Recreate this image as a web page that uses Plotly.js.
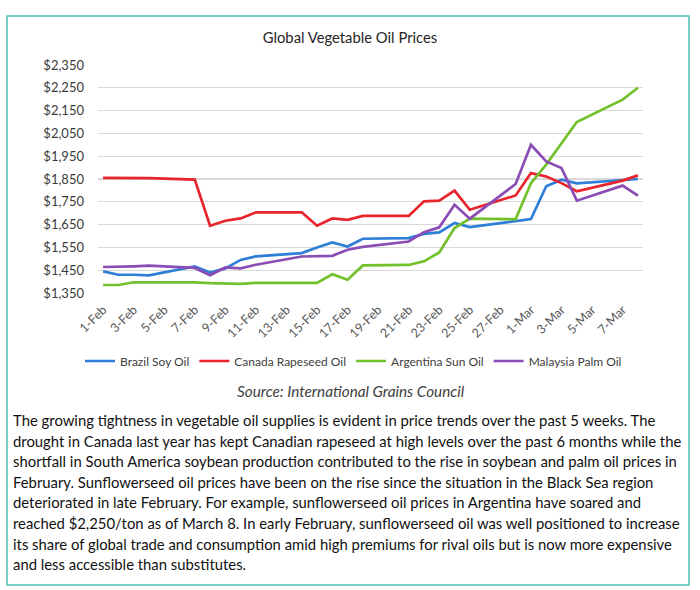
<!DOCTYPE html>
<html>
<head>
<meta charset="utf-8">
<script src="https://cdn.plot.ly/plotly-3.0.1.min.js"></script>
<style>
  html, body { margin: 0; padding: 0; background: #ffffff; }
  #chart { width: 700px; height: 590px; }
</style>
</head>
<body>
<div id="chart"></div>
<script>
// ---- Data ----
const dates = [
  '2022-02-01','2022-02-02','2022-02-03','2022-02-04','2022-02-07','2022-02-08','2022-02-09',
  '2022-02-10','2022-02-11','2022-02-14','2022-02-15','2022-02-16','2022-02-17','2022-02-18',
  '2022-02-21','2022-02-22','2022-02-23','2022-02-24','2022-02-25','2022-02-28','2022-03-01',
  '2022-03-02','2022-03-03','2022-03-04','2022-03-07','2022-03-08'
];
const brazilSoy = [1445,1430,1430,1427,1467,1440,1458,1495,1511,1525,1550,1572,1554,1588,
                   1591,1609,1616,1657,1639,1664,1674,1818,1847,1831,1843,1850];
const canadaRapeseed = [1855,1855,1855,1854,1847,1645,1667,1677,1704,1704,1645,1677,1671,1688,
                        1688,1752,1755,1799,1715,1778,1876,1861,1832,1796,1843,1866];
const argentinaSun = [1385,1385,1397,1397,1397,1393,1390,1390,1394,1394,1394,1432,1408,1471,
                      1473,1489,1528,1635,1676,1674,1832,1913,2005,2100,2198,2250];
const malaysiaPalm = [1464,1464,1467,1470,1460,1428,1462,1458,1474,1510,1513,1513,1540,1552,
                      1576,1617,1638,1737,1676,1828,2000,1927,1898,1755,1821,1777];

const seriesNames = ['Brazil Soy Oil','Canada Rapeseed Oil','Argentina Sun Oil','Malaysia Palm Oil'];
const seriesColors = ['#2f7ed8','#e8242c','#72c02c','#8b4db5'];

const tickDates = ['2022-02-01','2022-02-03','2022-02-05','2022-02-07','2022-02-09','2022-02-11',
  '2022-02-13','2022-02-15','2022-02-17','2022-02-19','2022-02-21','2022-02-23','2022-02-25',
  '2022-02-27','2022-03-01','2022-03-03','2022-03-05','2022-03-07'];
const tickLabels = ['1-Feb','3-Feb','5-Feb','7-Feb','9-Feb','11-Feb','13-Feb','15-Feb','17-Feb',
  '19-Feb','21-Feb','23-Feb','25-Feb','27-Feb','1-Mar','3-Mar','5-Mar','7-Mar'];

const chartTitle = 'Global Vegetable Oil Prices';
const sourceText = 'Source: International Grains Council';
const paragraphLines = [
  'The growing tightness in vegetable oil supplies is evident in price trends over the past 5 weeks. The',
  'drought in Canada last year has kept Canadian rapeseed at high levels over the past 6 months while the',
  'shortfall in South America soybean production contributed to the rise in soybean and palm oil prices in',
  'February. Sunflowerseed oil prices have been on the rise since the situation in the Black Sea region',
  'deteriorated in late February. For example, sunflowerseed oil prices in Argentina have soared and',
  'reached $2,250/ton as of March 8. In early February, sunflowerseed oil was well positioned to increase',
  'its share of global trade and consumption amid high premiums for rival oils but is now more expensive',
  'and less accessible than substitutes.'
];

// ---- Layout geometry (pixels) ----
const W = 700, H = 590;
const plotL = 98, plotR = 643, plotT = 65, plotB = 293;
const pw = plotR - plotL, ph = plotB - plotT;
const px = x => (x - plotL) / pw;       // pixel x -> paper x
const py = y => (plotB - y) / ph;       // pixel y -> paper y

const FONT = 'Lato, "Open Sans", sans-serif';

const allSeries = [brazilSoy, canadaRapeseed, argentinaSun, malaysiaPalm];
const traces = allSeries.map((vals, i) => ({
  type: 'scatter',
  mode: 'lines',
  x: dates,
  y: vals,
  name: seriesNames[i],
  line: { color: seriesColors[i], width: 2.7 },
  hoverinfo: 'x+y+name'
}));

const annotations = [
  {
    text: sourceText, xref: 'paper', yref: 'paper',
    x: px(351), y: py(391), xanchor: 'center', yanchor: 'middle',
    showarrow: false, font: { family: FONT, size: 15.3, color: '#404040', style: 'italic' }
  }
];
paragraphLines.forEach((t, i) => {
  annotations.push({
    text: t, xref: 'paper', yref: 'paper',
    x: px(11), y: py(420 + i * 20.6), xanchor: 'left', yanchor: 'middle',
    showarrow: false, font: { family: FONT, size: 14.85, color: '#111111' }
  });
});

const layout = {
  width: W, height: H,
  margin: { l: plotL, r: W - plotR, t: plotT, b: H - plotB, pad: 0 },
  paper_bgcolor: '#ffffff',
  plot_bgcolor: '#ffffff',
  font: { family: FONT, color: '#404040' },
  title: {
    text: chartTitle,
    font: { family: FONT, size: 14.8, color: '#262626' },
    x: 0.5, xanchor: 'center', xref: 'container',
    y: 1 - 38 / H, yanchor: 'middle', yref: 'container'
  },
  xaxis: {
    type: 'date',
    range: ['2022-01-31 16:00', '2022-03-08 08:00'],
    tickmode: 'array',
    tickvals: tickDates,
    ticktext: tickLabels,
    tickangle: -45,
    tickfont: { family: FONT, size: 12.5, color: '#595959' },
    ticklabelstandoff: 6,
    showgrid: false,
    zeroline: false,
    showline: false,
    ticks: '',
    fixedrange: true
  },
  yaxis: {
    range: [1350, 2350],
    tick0: 1350,
    dtick: 100,
    tickformat: '$,.0f',
    tickfont: { family: FONT, size: 13, color: '#3a3a3a' },
    ticklabelstandoff: 13,
    showgrid: true,
    gridcolor: '#d9d9d9',
    gridwidth: 1.3,
    zeroline: false,
    showline: false,
    ticks: '',
    ticklen: 0,
    fixedrange: true
  },
  showlegend: true,
  legend: {
    orientation: 'h',
    xref: 'container', yref: 'container',
    x: 0.505, xanchor: 'center',
    y: 1 - 361 / H, yanchor: 'middle',
    font: { family: FONT, size: 12, color: '#404040' },
    itemwidth: 30,
    tracegroupgap: 0
  },
  shapes: [
    {
      type: 'rect', xref: 'paper', yref: 'paper',
      x0: px(7), x1: px(689), y0: py(585), y1: py(16),
      line: { color: '#4fc1b4', width: 1.5 },
      fillcolor: 'rgba(0,0,0,0)',
      layer: 'below'
    }
  ],
  annotations: annotations
};

Plotly.newPlot('chart', traces, layout, { displayModeBar: false, staticPlot: true });
</script>
</body>
</html>
